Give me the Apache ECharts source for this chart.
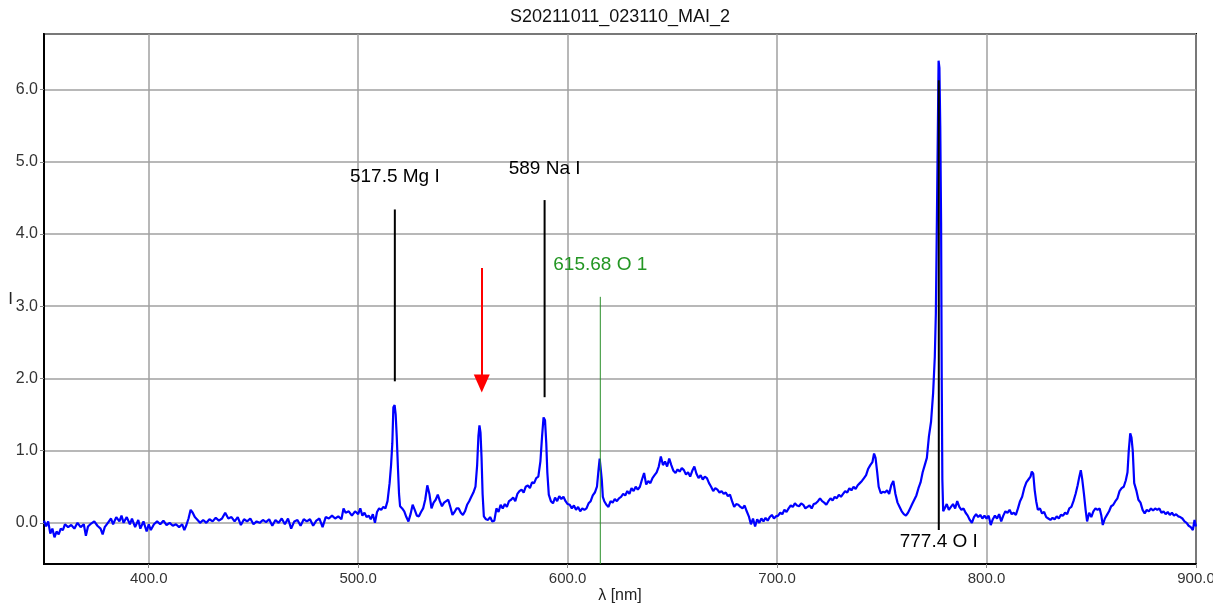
<!DOCTYPE html>
<html>
<head>
<meta charset="utf-8">
<script src="https://cdn.jsdelivr.net/npm/echarts@6/dist/echarts.min.js"></script>
<style>
html,body{margin:0;padding:0;background:#fff;overflow:hidden;}
#chart{width:1213px;height:610px;}
</style>
</head>
<body>
<div id="chart"></div>
<script>
const chartTitle = 'S20211011_023110_MAI_2';
const xAxisName = 'λ [nm]';
const yAxisName = 'I';
const xRange = [350, 900];
const yRange = [-0.57, 6.77];

// [wavelength nm, intensity]
const spectrum = [
[350,0.03],[351,-0.05],[352,0.02],[353,-0.15],[354,-0.08],[355,-0.2],[356,-0.12],[357,-0.16],[358,-0.08],[359,-0.1],
[360,-0.02],[361.5,-0.06],[363,-0.03],[364.5,-0.08],[366,0.0],[367.5,-0.06],[369,-0.02],[370,-0.18],[371,-0.05],[372.5,-0.01],
[374,0.02],[375.5,-0.04],[377,-0.08],[378,-0.16],[379,-0.06],[380.5,0.0],[382,0.06],[383,-0.02],[384.5,0.08],[386,0.02],
[387,0.1],[388,0.0],[389.5,0.08],[391,-0.02],[392,0.06],[393.5,-0.06],[395,0.04],[396,-0.08],[397.5,0.02],[399,-0.12],
[400,-0.02],[401,-0.1],[402.5,-0.02],[404,0.02],[405.5,-0.02],[407,0.03],[408.5,-0.03],[410,0.0],[411.5,-0.04],[413,-0.02],
[414.5,-0.06],[416,-0.02],[417,-0.1],[418,-0.03],[419,0.06],[420,0.18],[421,0.14],[422,0.08],[423,0.05],[424.5,0.0],
[426,0.04],[427.5,0.0],[429,0.05],[430.5,0.02],[432,0.07],[433.5,0.03],[435,0.06],[436.5,0.14],[438,0.06],[439.5,0.08],
[441,0.02],[442.5,0.08],[444,-0.03],[445.5,0.05],[447,0.02],[448.5,0.06],[450,-0.02],[451.5,0.02],[453,0.0],[454.5,0.04],
[456,0.01],[457.5,0.05],[459,-0.04],[460.5,0.04],[462,0.0],[463.5,0.06],[465,-0.02],[466.5,0.06],[468,-0.08],[469.5,0.02],
[471,0.04],[472.5,-0.04],[474,0.05],[475.5,0.02],[477,0.05],[478.5,-0.04],[480,0.03],[481.5,0.06],[483,-0.06],[484.5,0.08],
[486,0.06],[487.5,0.1],[489,0.06],[490.5,0.09],[492,0.05],[493,0.2],[494,0.14],[495.5,0.16],[497,0.1],[498.5,0.16],
[500,0.12],[501,0.2],[502,0.1],[503,0.14],[504,0.08],[505,0.1],[506,0.05],[507,0.12],[508,0.0],[509,0.15],
[510,0.2],[511,0.18],[512,0.22],[513,0.2],[514,0.3],[515,0.55],[515.7,0.8],[516.3,1.1],[516.8,1.6],[517.4,1.63],
[517.9,1.5],[518.4,1.2],[519,0.75],[519.5,0.4],[520,0.23],[521,0.2],[522,0.16],[523,0.08],[524,0.02],[525,0.12],
[526,0.25],[527,0.18],[528,0.1],[529,0.09],[530,0.15],[531,0.2],[532,0.32],[533,0.52],[534,0.4],[535,0.2],
[536,0.28],[537,0.32],[538,0.39],[539,0.3],[540,0.23],[541,0.28],[542,0.3],[543,0.32],[544,0.22],[545,0.11],
[546,0.15],[547,0.2],[548,0.2],[549,0.14],[550,0.11],[551,0.16],[552,0.25],[553,0.3],[554,0.36],[555,0.42],
[556,0.5],[556.8,0.8],[557.4,1.2],[557.9,1.35],[558.4,1.25],[558.9,0.9],[559.4,0.4],[560,0.09],[561,0.05],[562,0.04],
[563,0.08],[564,0.02],[565,0.03],[566,0.2],[567,0.15],[568,0.25],[569,0.2],[570,0.26],[571,0.22],[572,0.3],
[573,0.32],[574,0.35],[575,0.3],[576,0.4],[577,0.44],[578,0.46],[579,0.42],[580,0.5],[581,0.52],[582,0.48],
[583,0.56],[584,0.55],[585,0.62],[586,0.64],[587,0.85],[587.8,1.2],[588.5,1.46],[589.2,1.42],[589.8,1.1],[590.3,0.7],
[591,0.39],[592,0.3],[593,0.27],[594,0.35],[595,0.3],[596,0.37],[597,0.33],[598,0.36],[599,0.3],[600,0.26],
[601,0.25],[602,0.2],[603,0.24],[604,0.18],[605,0.22],[606,0.16],[607,0.2],[608,0.18],[609,0.2],[610,0.27],
[611,0.3],[612,0.38],[613,0.42],[614,0.5],[614.8,0.75],[615.3,0.89],[615.8,0.87],[616.3,0.6],[616.8,0.36],[617.5,0.3],
[618.5,0.25],[619.5,0.22],[620.5,0.3],[621.5,0.28],[622.5,0.33],[623.5,0.3],[624.5,0.34],[625.5,0.36],[626.5,0.4],[627.5,0.38],
[628.5,0.44],[629.5,0.4],[630.5,0.48],[631.5,0.44],[632.5,0.5],[633.5,0.46],[634.5,0.5],[635.5,0.6],[636.5,0.69],[637.5,0.53],
[638.5,0.58],[639.5,0.55],[640.5,0.62],[641.5,0.66],[642.5,0.7],[643.5,0.78],[644.5,0.92],[645.5,0.8],[646.5,0.85],[647.5,0.78],
[648.5,0.89],[649.5,0.8],[650.5,0.72],[651.5,0.69],[652.5,0.74],[653.5,0.71],[654.5,0.76],[655.5,0.73],[656.5,0.67],[657.5,0.7],
[658.5,0.64],[659.5,0.72],[660.5,0.78],[661.5,0.68],[662.5,0.62],[663.5,0.66],[664.5,0.6],[665.5,0.64],[666.5,0.62],[667.5,0.55],
[668.5,0.5],[669.5,0.44],[670.5,0.48],[671.5,0.46],[672.5,0.42],[673.5,0.44],[674.5,0.4],[675.5,0.42],[676.5,0.37],[677.5,0.39],
[678.5,0.3],[679.5,0.22],[680.5,0.26],[681.5,0.25],[682.5,0.22],[683.5,0.2],[684.5,0.24],[685.5,0.16],[686.5,0.09],[687.5,-0.02],
[688.5,0.06],[689.5,-0.05],[690.5,0.05],[691.5,0.0],[692.5,0.06],[693.5,0.02],[694.5,0.07],[695.5,0.03],[696.5,0.08],[697.5,0.11],
[698.5,0.06],[699.5,0.09],[700.5,0.1],[701.5,0.14],[702.5,0.12],[703.5,0.18],[704.5,0.15],[705.5,0.2],[706.5,0.24],[707.5,0.22],
[708.5,0.27],[709.5,0.24],[710.5,0.23],[711.5,0.27],[712.5,0.25],[713.5,0.2],[714.5,0.22],[715.5,0.24],[716.5,0.2],[717.5,0.26],
[718.5,0.27],[719.5,0.3],[720.5,0.34],[721.5,0.3],[722.5,0.28],[723.5,0.25],[724.5,0.3],[725.5,0.34],[726.5,0.31],[727.5,0.36],
[728.5,0.34],[729.5,0.39],[730.5,0.36],[731.5,0.4],[732.5,0.44],[733.5,0.42],[734.5,0.48],[735.5,0.45],[736.5,0.5],[737.5,0.47],
[738.5,0.52],[739.5,0.55],[740.5,0.58],[741.5,0.62],[742.5,0.66],[743.5,0.75],[744.5,0.8],[745.5,0.84],[746.3,0.96],[747,0.9],
[747.8,0.7],[748.5,0.5],[749.5,0.41],[750.5,0.43],[751.5,0.42],[752.5,0.45],[753.5,0.4],[754.5,0.52],[755.5,0.58],[756.5,0.4],
[757.5,0.28],[758.5,0.22],[759.5,0.16],[760.5,0.12],[761.5,0.1],[762.5,0.14],[763.5,0.2],[764.5,0.26],[765.5,0.32],[766.5,0.38],
[767.5,0.48],[768.5,0.56],[769.5,0.7],[770.5,0.8],[771.5,0.9],[772.5,1.2],[773.5,1.4],[774.5,1.8],[775.3,2.3],[775.8,2.9],
[776.3,4.2],[776.7,5.3],[777.1,6.4],[777.5,6.3],[777.9,5.5],[778.3,4.16],[778.6,2.0],[778.9,0.6],[779.3,0.16],[780,0.2],
[781,0.26],[782,0.18],[783,0.22],[784,0.26],[785,0.2],[786,0.3],[787,0.22],[788,0.18],[789,0.2],[790,0.14],
[791,0.1],[792,0.04],[793,0.0],[794,0.08],[795,0.12],[796,0.08],[797,0.11],[798,0.06],[799,0.1],[800,0.06],
[801,0.1],[802,-0.03],[803,0.05],[804,0.1],[805,0.06],[806,0.12],[807,0.02],[808,0.1],[809,0.16],[810,0.14],
[811,0.18],[812,0.12],[813,0.14],[814,0.11],[815,0.2],[816,0.3],[817,0.36],[818,0.48],[819,0.56],[820,0.6],
[821,0.64],[821.6,0.71],[822.3,0.68],[823,0.45],[823.7,0.3],[824.5,0.18],[825.5,0.2],[826.5,0.13],[827.5,0.15],[828.5,0.08],
[829.5,0.06],[830.5,0.04],[831.5,0.07],[832.5,0.05],[833.5,0.09],[834.5,0.06],[835.5,0.11],[836.5,0.1],[837.5,0.14],[838.5,0.12],
[839.5,0.2],[840.5,0.22],[841.5,0.3],[842.5,0.4],[843.5,0.52],[844.3,0.64],[845,0.73],[845.7,0.6],[846.5,0.4],[847.3,0.18],
[848,0.02],[849,0.14],[850,0.08],[851,0.16],[852,0.2],[853,0.18],[854,0.2],[854.8,0.1],[855.5,-0.03],[856.5,0.06],
[857.5,0.11],[858.5,0.16],[859.5,0.23],[860.5,0.25],[861.5,0.3],[862.5,0.34],[863.5,0.44],[864.5,0.48],[865.5,0.5],[866.5,0.59],
[867.3,0.7],[867.9,1.0],[868.6,1.24],[869.2,1.18],[869.8,1.0],[870.5,0.55],[871.5,0.45],[872.5,0.32],[873.5,0.28],[874.5,0.18],
[875.5,0.13],[876.5,0.18],[877.5,0.16],[878.5,0.2],[879.5,0.17],[880.5,0.2],[881.5,0.18],[882.5,0.2],[883.5,0.14],[884.5,0.16],
[885.5,0.12],[886.5,0.15],[887.5,0.11],[888.5,0.14],[889.5,0.1],[890.5,0.12],[891.5,0.09],[892.5,0.08],[893.5,0.06],[894.5,0.02],
[895.5,0.0],[896.5,-0.04],[897.5,-0.06],[898.5,-0.1],[899.3,0.04],[900,-0.05]
];

// Black identification lines
const lineWavelength = [517.5, 589, 777.2];
const lineBottom = [1.96, 1.74, -0.1];
const lineTop = [4.34, 4.47, 6.13];
const lineLabel = ['517.5 Mg I', '589 Na I', '777.4 O I'];
const lineLabelY = [4.79, 4.91, -0.26];

// Green line
const greenWavelength = 615.6;
const greenTop = 3.13;
const greenLabel = '615.68 O 1';
const greenLabelY = 3.57;

// Red arrow
const arrowWavelength = 559;
const arrowFrom = 3.53;
const arrowTo = 1.93;

const FONT = '"Liberation Sans", Arial, sans-serif';

const series = [];
series.push({
  type: 'line', data: spectrum, showSymbol: false, symbol: 'none',
  lineStyle: { color: '#0000ff', width: 2.2 }, silent: true, z: 2
});
lineWavelength.forEach((w, i) => {
  series.push({
    type: 'line', data: [[w, lineBottom[i]], [w, lineTop[i]]], showSymbol: false, symbol: 'none',
    lineStyle: { color: '#000', width: 2 }, silent: true, z: 3
  });
});
series.push({
  type: 'line', data: [[greenWavelength, yRange[0]], [greenWavelength, greenTop]], showSymbol: false, symbol: 'none',
  lineStyle: { color: '#2a8f2a', width: 1 }, silent: true, z: 3,
  markLine: {
    silent: true, animation: false,
    symbol: ['none', 'triangle'], symbolSize: [16, 18],
    label: { show: false },
    lineStyle: { color: '#ff0000', width: 2, type: 'solid' },
    data: [[{ coord: [arrowWavelength, arrowFrom] }, { coord: [arrowWavelength, arrowTo] }]]
  }
});
series.push({
  type: 'scatter', symbolSize: 1, itemStyle: { color: 'rgba(255,255,255,0)' }, silent: true, z: 4,
  data: lineLabel.map((t, i) => ({ value: [lineWavelength[i], lineLabelY[i]], name: t }))
    .concat([{ value: [greenWavelength, greenLabelY], name: greenLabel, label: { color: '#239623' } }]),
  label: {
    show: true, position: 'inside', formatter: p => p.name, opacity: 1,
    textBorderWidth: 0, textShadowBlur: 0,
    color: '#000', fontSize: 19, fontFamily: FONT
  }
});

const chart = echarts.init(document.getElementById('chart'), null, { renderer: 'canvas' });
chart.setOption({
  animation: false,
  backgroundColor: '#fff',
  graphic: [{
    type: 'text', x: 620, y: 8,
    style: { text: chartTitle, fontSize: 18, fontFamily: FONT, fill: '#111', align: 'center', textAlign: 'center' }
  }],
  grid: { left: 44, right: 17, top: 34, bottom: 46, outerBoundsMode: 'none', containLabel: false,
    show: true, borderColor: '#000', borderWidth: 2, backgroundColor: '#fff' },
  xAxis: {
    type: 'value', min: xRange[0], max: xRange[1], splitNumber: 5, minInterval: 100, maxInterval: 100,
    name: xAxisName, nameLocation: 'middle', nameGap: 24, nameMoveOverlap: false,
    nameTextStyle: { fontSize: 16, fontFamily: FONT, color: '#222' },
    axisLine: { show: true, onZero: false, lineStyle: { color: '#000', width: 2 } },
    axisTick: { show: true, length: 4, lineStyle: { color: '#888' } },
    axisLabel: { showMinLabel: false, margin: 7, fontSize: 15, fontFamily: FONT, color: '#333', formatter: v => v.toFixed(1) },
    splitLine: { show: true, lineStyle: { color: '#a0a0a0', width: 1.5 } }
  },
  yAxis: {
    type: 'value', min: yRange[0], max: yRange[1], splitNumber: 7, minInterval: 1, maxInterval: 1,
    name: yAxisName, nameLocation: 'middle', nameGap: 31, nameRotate: 0, nameMoveOverlap: false,
    nameTextStyle: { fontSize: 17, fontFamily: FONT, color: '#222', padding: [0, 0, 6, 0] },
    axisLine: { show: true, onZero: false, lineStyle: { color: '#000', width: 2 } },
    axisTick: { show: true, length: 4, lineStyle: { color: '#888' } },
    axisLabel: { showMinLabel: false, showMaxLabel: false, margin: 6, fontSize: 16, fontFamily: FONT, color: '#333', formatter: v => v.toFixed(1) },
    splitLine: { show: true, lineStyle: { color: '#a0a0a0', width: 1.5 } }
  },
  series: series
});
</script>
</body>
</html>
